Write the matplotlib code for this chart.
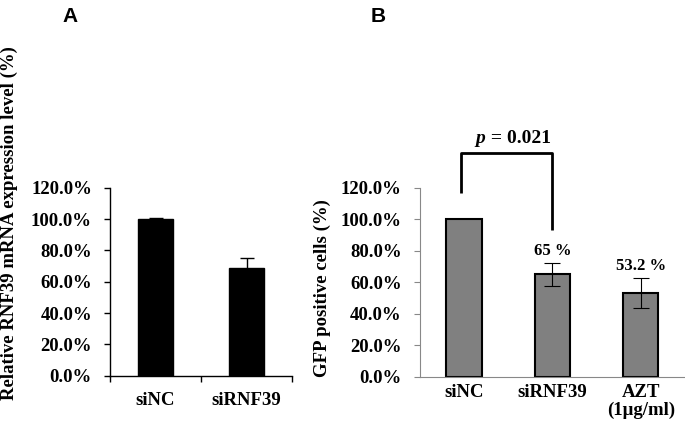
import matplotlib.pyplot as plt

plt.rcParams['font.family'] = ['Liberation Serif', 'DejaVu Serif']
plt.rcParams['font.weight'] = 'bold'

# panel A data
cats_a = ["siNC", "siRNF39"]
vals_a = [100.0, 69.0]
errs_a = [0.4, 6.2]

# panel B data
cats_b = ["siNC", "siRNF39", "AZT\n(1μg/ml)"]
vals_b = [100.0, 65.0, 53.2]
errs_b = [0.0, 7.2, 9.4]
labels_b = ["", "65 %", "53.2 %"]

yticks = [0, 20, 40, 60, 80, 100, 120]
yticklabels = ["%.1f%%" % v for v in yticks]

fs = 13.5

fig = plt.figure(figsize=(6.85, 4.32), dpi=100)

# ---- panel A
ax1 = fig.add_axes([0.1606, 0.1303, 0.2657, 0.4352])
ax1.bar(range(len(cats_a)), vals_a, width=0.39, color='black', edgecolor='black', zorder=2)
ax1.errorbar(range(len(cats_a)), vals_a, yerr=errs_a, fmt='none', ecolor='black',
             elinewidth=1.0, capsize=5, capthick=1.0, zorder=3)
ax1.set_xlim(-0.5, 1.5)
ax1.set_ylim(0, 120)
ax1.set_yticks(yticks)
ax1.set_yticklabels(yticklabels, fontsize=fs, fontweight='bold')
ax1.set_xticks([-0.5, 0.5, 1.5], minor=False)
ax1.set_xticklabels([])
ax1.set_xticks([0, 1], minor=True)
ax1.set_xticklabels(cats_a, minor=True, fontsize=fs, fontweight='bold')
ax1.tick_params(axis='x', which='major', direction='out', length=4, width=1)
ax1.tick_params(axis='x', which='minor', length=0, pad=12)
ax1.tick_params(axis='y', direction='out', length=4, width=1, pad=9)
for s in ['top', 'right']:
    ax1.spines[s].set_visible(False)
ax1.spines['left'].set_linewidth(1)
ax1.spines['bottom'].set_linewidth(1)

fig.text(9 / 685, 1 - 223 / 432, "Relative RNF39 mRNA expression level (%)", rotation=90,
         ha='center', va='center', fontsize=fs, fontweight='bold')
fig.text(70 / 685, 1 - 16 / 432, "A", ha='center', va='center', fontsize=15,
         fontweight='bold', family='Liberation Sans')

# ---- panel B
ax2 = fig.add_axes([0.6128, 0.128, 0.3872, 0.4375])
x_b = list(range(len(cats_b)))
ax2.bar(x_b, vals_b, width=0.4, color='#808080', edgecolor='black', linewidth=1.5, zorder=2)
ax2.errorbar(x_b[1:], vals_b[1:], yerr=errs_b[1:], fmt='none', ecolor='black',
             elinewidth=0.8, capsize=6, capthick=0.8, zorder=3)
ax2.set_xlim(-0.5, 2.5)
ax2.set_ylim(0, 120)
ax2.set_yticks(yticks)
ax2.set_yticklabels(yticklabels, fontsize=fs, fontweight='bold')
ax2.set_xticks(x_b)
ax2.set_xticklabels(cats_b, fontsize=fs, fontweight='bold', linespacing=1.1)
ax2.tick_params(axis='x', length=0, pad=5)
ax2.tick_params(axis='y', direction='out', length=4, width=0.8, color='#888888', pad=9)
for s in ['top', 'right']:
    ax2.spines[s].set_visible(False)
ax2.spines['left'].set_color('#888888')
ax2.spines['bottom'].set_color('#888888')

for i, lab in enumerate(labels_b):
    if lab:
        ax2.text(x_b[i], vals_b[i] + errs_b[i] + 2.5, lab, ha='center', va='bottom',
                 fontsize=12, fontweight='bold')

# significance bracket
ax2.plot([-0.03, -0.03, 0.0, 1.0, 1.0], [116.4, 142.2, 142.2, 142.2, 93.1], color='black',
         lw=2, clip_on=False, solid_capstyle='butt', zorder=4)
ax2.text(0.245, 151.5, "p", style='italic', ha='right', va='center', fontsize=14,
         fontweight='bold', clip_on=False)
ax2.text(0.245, 151.5, " = 0.021", ha='left', va='center', fontsize=14,
         fontweight='bold', clip_on=False)

fig.text(322 / 685, 1 - 288 / 432, "GFP positive cells (%)", rotation=90,
         ha='center', va='center', fontsize=fs, fontweight='bold')
fig.text(378 / 685, 1 - 16 / 432, "B", ha='center', va='center', fontsize=15,
         fontweight='bold', family='Liberation Sans')

fig.savefig("out.png", dpi=100)
